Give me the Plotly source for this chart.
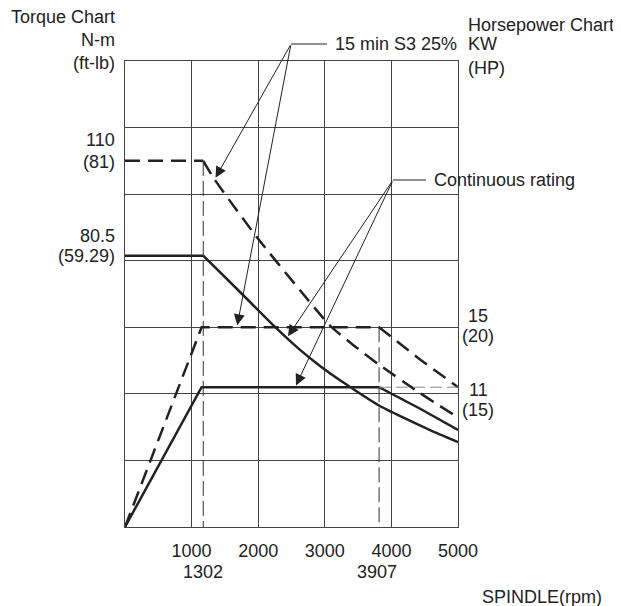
import numpy as np
import plotly.graph_objects as go

# ---------------- data ----------------
speed_ticks = [1000, 2000, 3000, 4000, 5000]
speed_tick_labels = ["1000", "2000", "3000", "4000", "5000"]

knee_low_rpm = 1175      # start of constant-power range (labelled 1302)
knee_high_rpm = 3815     # end of constant-power range (labelled 3907)
knee_labels = ["1302", "3907"]

s3_torque_rpm = [0, 1175, 1335, 1975, 2625, 3075, 3425, 3800, 4425, 5000]
s3_torque_nm = [110, 110, 104.7, 87.2, 71.2, 60.6, 54.7, 49.0, 40.3, 32.9]

cont_torque_rpm = [0, 1175, 1727, 2252, 2628, 2928, 3303, 3814, 4174, 4580, 5000]
cont_torque_nm = [81.5, 81.5, 70.6, 60.1, 53.2, 48.4, 43.1, 36.5, 32.9, 29.1, 25.5]

s3_power_rpm = [0, 1150, 3815, 4425, 5000]
s3_power_kw = [0, 15, 15, 12.6, 10.5]

cont_power_rpm = [0, 1150, 3815, 4425, 5000]
cont_power_kw = [0, 10.5, 10.5, 8.9, 7.3]

torque_labels = ["110", "(81)", "80.5", "(59.29)"]
power_labels = ["15", "(20)", "11", "(15)"]

# ---------------- layout geometry ----------------
OFF = 8                      # page body margin around the figure
FIG_W, FIG_H = 613, 598
M_L, M_R, M_T, M_B = 117, 163, 53, 79
PW = FIG_W - M_L - M_R
PH = FIG_H - M_T - M_B
X_MAX, T_MAX, P_MAX = 5000, 140, 35

def px_x(px):
    """page pixel x -> paper fraction"""
    return (px - OFF - M_L) / PW

def px_y(py):
    """page pixel y -> paper fraction"""
    return (FIG_H - M_B - (py - OFF)) / PH

INK = "#222222"
FONT = "Liberation Sans, Arial, Helvetica, sans-serif"
FS = 18

fig = go.Figure()

thick = dict(color=INK, width=2.5)
thick_dash = dict(color=INK, width=2.5, dash="15px,8px")

def curve(xs, ys, line, axis, bend_from):
    # straight part up to the knee, smooth curve after it
    fig.add_trace(go.Scatter(x=xs[:bend_from + 1], y=ys[:bend_from + 1], mode="lines",
                             line=line, yaxis=axis))
    fig.add_trace(go.Scatter(x=xs[bend_from:], y=ys[bend_from:], mode="lines",
                             line=dict(line, shape="spline", smoothing=0.6), yaxis=axis))

curve(s3_torque_rpm, s3_torque_nm, thick_dash, "y", 1)
curve(cont_torque_rpm, cont_torque_nm, thick, "y", 1)
fig.add_trace(go.Scatter(x=s3_power_rpm, y=s3_power_kw, mode="lines",
                         line=thick_dash, yaxis="y2"))
fig.add_trace(go.Scatter(x=cont_power_rpm, y=cont_power_kw, mode="lines",
                         line=thick, yaxis="y2"))

# thin dashed guide lines
fig.add_trace(go.Scatter(x=[knee_low_rpm, knee_low_rpm], y=[s3_torque_nm[0], 0],
                         mode="lines", line=dict(color="#333", width=1, dash="15px,5px"),
                         yaxis="y"))
fig.add_trace(go.Scatter(x=[knee_high_rpm, knee_high_rpm], y=[s3_power_kw[2], 0],
                         mode="lines", line=dict(color="#333", width=1, dash="15px,5px"),
                         yaxis="y2"))
fig.add_trace(go.Scatter(x=[knee_high_rpm, X_MAX], y=[cont_power_kw[2], cont_power_kw[2]],
                         mode="lines", line=dict(color="#888", width=1, dash="12px,5px"),
                         yaxis="y2"))

ann = []
shapes = []

def text(x, y, s, xanchor="left", yanchor="middle", xref="paper", yref="paper",
         xshift=0, yshift=0):
    ann.append(dict(x=x, y=y, text=s, xref=xref, yref=yref, showarrow=False,
                    xanchor=xanchor, yanchor=yanchor, xshift=xshift, yshift=yshift,
                    font=dict(family=FONT, size=FS, color=INK)))

# axis headers
text(px_x(117), px_y(17), "Torque Chart", xanchor="right")
text(px_x(117), px_y(40), "N-m", xanchor="right")
text(px_x(117), px_y(63), "(ft-lb)", xanchor="right")
text(px_x(466), px_y(25), "Horsepower Chart")
text(px_x(466), px_y(44), "KW")
text(px_x(466), px_y(68), "(HP)")
text(px_x(604), px_y(597), "SPINDLE(rpm)", xanchor="right")

# left torque labels
text(0, s3_torque_nm[0], torque_labels[0], xanchor="right", yref="y", xshift=-8, yshift=21)
text(0, s3_torque_nm[0], torque_labels[1], xanchor="right", yref="y", xshift=-8, yshift=-1)
text(0, cont_torque_nm[0], torque_labels[2], xanchor="right", yref="y", xshift=-8, yshift=20)
text(0, cont_torque_nm[0], torque_labels[3], xanchor="right", yref="y", xshift=-8, yshift=0)

# right power labels
text(1, s3_power_kw[1], power_labels[0], xanchor="center", yref="y2", xshift=20, yshift=11)
text(1, s3_power_kw[1], power_labels[1], xanchor="center", yref="y2", xshift=20, yshift=-9)
text(1, cont_power_kw[1], power_labels[2], xanchor="center", yref="y2", xshift=20, yshift=-3)
text(1, cont_power_kw[1], power_labels[3], xanchor="center", yref="y2", xshift=20, yshift=-23)

# knee speed labels
text(knee_low_rpm, px_y(572), knee_labels[0], xanchor="center", xref="x")
text(knee_high_rpm, px_y(572), knee_labels[1], xanchor="center", xref="x", xshift=-2)

# callouts
def callout(vx, vy, tx, label, targets):
    shapes.append(dict(type="line", xref="paper", yref="paper",
                       x0=px_x(vx), y0=px_y(vy), x1=px_x(tx - 6), y1=px_y(vy),
                       line=dict(color=INK, width=1)))
    text(px_x(tx), px_y(vy), label)
    for rpm, xs, ys, axis in targets:
        yv = float(np.interp(rpm, xs, ys))
        ymax = T_MAX if axis == "y" else P_MAX
        ann.append(dict(x=rpm, y=yv, xref="x", yref=axis, axref="x", ayref=axis,
                        ax=px_x(vx) * X_MAX, ay=px_y(vy) * ymax, text="",
                        showarrow=True, arrowhead=2, arrowsize=2.2, arrowwidth=1,
                        arrowcolor=INK, standoff=2))

callout(291, 44, 333, "15 min S3 25%",
        [(1345, s3_torque_rpm, s3_torque_nm, "y"),
         (1680, s3_power_rpm, s3_power_kw, "y2")])
callout(393, 180, 432, "Continuous rating",
        [(2430, cont_torque_rpm, cont_torque_nm, "y"),
         (2555, cont_power_rpm, cont_power_kw, "y2")])

fig.update_layout(
    width=FIG_W, height=FIG_H,
    margin=dict(l=M_L, r=M_R, t=M_T, b=M_B, pad=0),
    paper_bgcolor="white", plot_bgcolor="white",
    showlegend=False,
    font=dict(family=FONT, size=FS, color=INK),
    annotations=ann, shapes=shapes,
    xaxis=dict(range=[0, X_MAX], tickvals=speed_ticks, ticktext=speed_tick_labels,
               showgrid=True, gridcolor="#444", gridwidth=1, zeroline=False,
               showline=True, mirror=True, linecolor="#444", linewidth=1,
               ticks="", ticklabelstandoff=7,
               tickfont=dict(family=FONT, size=FS, color=INK)),
    yaxis=dict(range=[0, T_MAX], dtick=20, showgrid=True, gridcolor="#444", gridwidth=1,
               zeroline=False, showline=True, mirror=True, linecolor="#444",
               linewidth=1, showticklabels=False, ticks=""),
    yaxis2=dict(range=[0, P_MAX], overlaying="y", side="right", showgrid=False,
                zeroline=False, showticklabels=False, ticks="", showline=False),
)

fig.write_html("out.html")
